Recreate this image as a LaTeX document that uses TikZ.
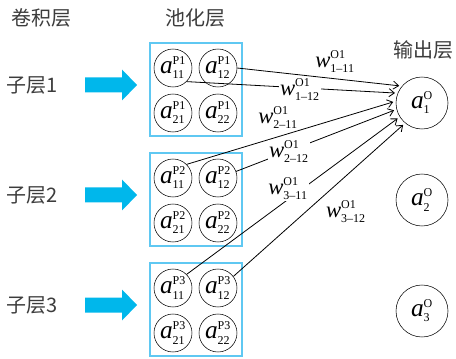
\documentclass[tikz,border=0pt]{standalone}
\usepackage{fontspec}
\setmainfont{Liberation Serif}
\newfontfamily\cjk{Noto Sans CJK SC}
\usetikzlibrary{arrows.meta,positioning}
\usepackage{xcolor}
\definecolor{arrowcyan}{RGB}{0,183,235}
\definecolor{boxblue}{RGB}{95,200,242}
\definecolor{textgray}{RGB}{60,60,60}
\newcommand{\scr}[1]{\hbox{\fontsize{9}{9}\selectfont\upshape #1}}
\newcommand{\unitlab}[3]{$\textit{#1}^{\scr{#2}}_{\scr{#3}}$}

\begin{document}
\begin{tikzpicture}[x=0.75pt, y=-0.75pt, >={Straight Barb[length=4pt,width=6pt]},
  layertext/.style={font=\cjk\fontsize{15}{15}\selectfont, text=textgray},
  cell/.style={draw, circle, minimum size=28.5pt, inner sep=0pt, font=\fontsize{19}{19}\selectfont},
  outcell/.style={draw, circle, minimum size=39pt, inner sep=0pt, font=\fontsize{19}{19}\selectfont},
  poolbox/.style={draw=boxblue, line width=1.5pt},
  wire/.style={->, line width=0.6pt, shorten >=2pt},
  wlab/.style={font=\fontsize{17}{17}\selectfont, inner sep=1pt},
  cutlab/.style={wlab, fill=white}]
  \useasboundingbox (0,0) rectangle (456,359);
  %% Column titles
  \node[layertext] (convtitle) at (42,18) {卷积层};
  \node[layertext] (pooltitle) at (195,18) {池化层};
  \node[layertext] (outtitle) at (423,50) {输出层};
  %% Sub-layers: arrow, pooling box with four cells
  \foreach \k in {1,2,3}{
    \begin{scope}[shift={(0,{110*(\k-1)})}]
      \node[layertext] (sub\k) at (32,85) {子层\k};
      \fill[arrowcyan] (85,77.5) -- (122,77.5) -- (122,69.5) -- (137,85)
        -- (122,100.5) -- (122,92.5) -- (85,92.5) -- cycle;
      \draw[poolbox] (150,43) rectangle (242,136);
      \node[cell] (p\k11) at (173,68) {\unitlab{a}{P\k}{11}};
      \node[cell] (p\k12) at (218,68) {\unitlab{a}{P\k}{12}};
      \node[cell] (p\k21) at (173,113) {\unitlab{a}{P\k}{21}};
      \node[cell] (p\k22) at (218,113) {\unitlab{a}{P\k}{22}};
    \end{scope}
  }
  %% Output layer
  \node[outcell] (o1) at (422,103) {\unitlab{a}{O}{1}};
  \node[outcell] (o2) at (422,200) {\unitlab{a}{O}{2}};
  \node[outcell] (o3) at (422,311) {\unitlab{a}{O}{3}};
  %% Connections to the first output
  \draw[wire] (p112.east) -- (o1.140);
  \draw[wire] (p111.-45) -- (o1.158);
  \draw[wire] (p211.45) -- (o1.176);
  \draw[wire] (p212.20) -- (o1.194);
  \draw[wire] (p311.45) -- (o1.212);
  \draw[wire] (p312.37) -- (o1.230);
  %% Weight labels
  \node[wlab] (w111) at (335,62) {\unitlab{w}{O1}{1--11}};
  \node[cutlab] (w112) at (300,90) {\unitlab{w}{O1}{1--12}};
  \node[wlab] (w211) at (278,118) {\unitlab{w}{O1}{2--11}};
  \node[cutlab] (w212) at (289,152) {\unitlab{w}{O1}{2--12}};
  \node[cutlab] (w311) at (288,189) {\unitlab{w}{O1}{3--11}};
  \node[wlab] (w312) at (346,212) {\unitlab{w}{O1}{3--12}};
\end{tikzpicture}
\end{document}
